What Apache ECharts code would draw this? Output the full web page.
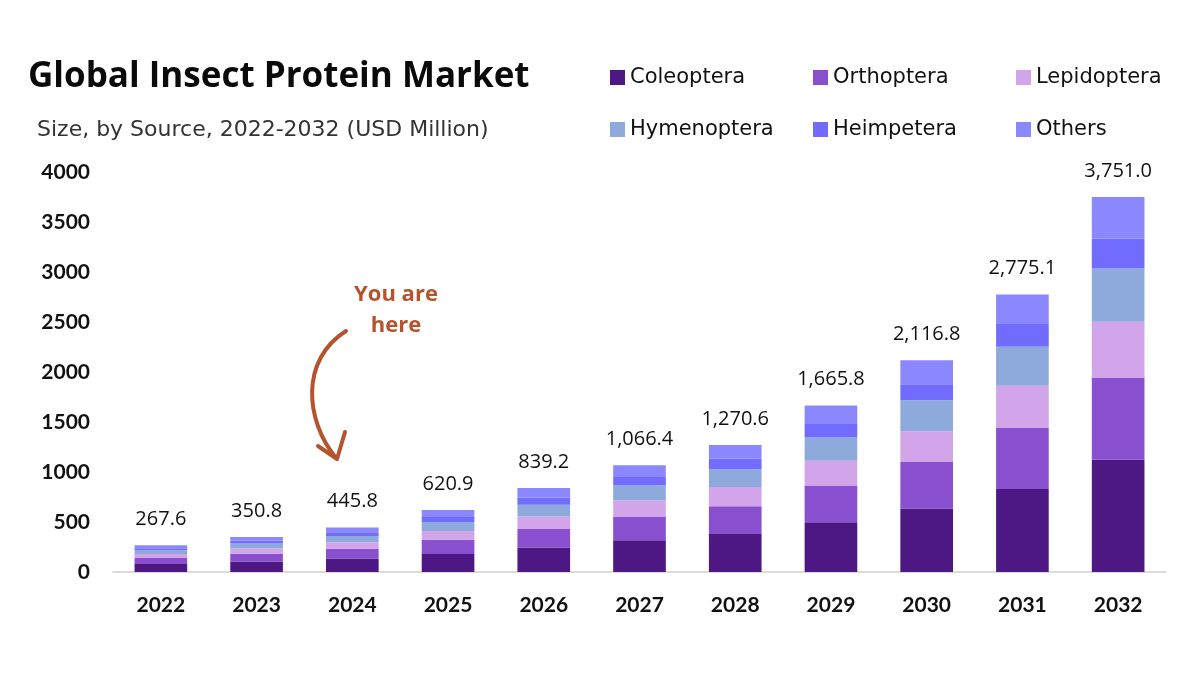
<!DOCTYPE html>
<html>
<head>
<meta charset="utf-8">
<script src="https://cdn.jsdelivr.net/npm/echarts@6/dist/echarts.min.js"></script>
<style>
  html, body { margin: 0; padding: 0; background: #fff; }
  #chart { width: 1200px; height: 675px; }
</style>
</head>
<body>
<div id="chart"></div>
<script>
// data (USD Million)
var years = ['2022', '2023', '2024', '2025', '2026', '2027', '2028', '2029', '2030', '2031', '2032'];
var coleoptera  = [80, 105, 134, 180, 245, 318, 381, 498, 635, 830, 1122];
var orthoptera  = [59, 77, 98, 143, 186, 236, 276, 366, 466, 615, 822];
var lepidoptera = [40, 52, 66, 86, 124, 160, 194, 248, 307, 418, 559];
var hymenoptera = [38, 50, 63, 90, 118, 150, 176, 234, 310, 389, 533];
var heimpetera  = [21, 28, 36, 50, 70, 85, 106, 135, 160, 228, 299];
var others      = [29.6, 38.8, 48.8, 71.9, 96.2, 117.4, 137.6, 184.8, 238.8, 295.1, 416];
var totals      = [267.6, 350.8, 445.8, 620.9, 839.2, 1066.4, 1270.6, 1665.8, 2116.8, 2775.1, 3751.0];

var seriesNames = ['Coleoptera', 'Orthoptera', 'Lepidoptera', 'Hymenoptera', 'Heimpetera', 'Others'];
var seriesData = [coleoptera, orthoptera, lepidoptera, hymenoptera, heimpetera, others];
var colors = ['#4d1883', '#8a4fcf', '#d2a4ea', '#8ea9dc', '#716cfe', '#8b88ff'];

// legend slots (3 columns x 2 rows)
var legendLeft = [605, 808, 1011];
var legendTop = [62, 114];

function fmt(v) {
    var s = v.toFixed(1).split('.');
    s[0] = s[0].replace(/\B(?=(\d{3})+(?!\d))/g, ',');
    return s.join('.');
}

var chart = echarts.init(document.getElementById('chart'));

var series = seriesNames.map(function (name, i) {
    var s = {
        name: name,
        type: 'bar',
        stack: 'total',
        barWidth: '55%',
        data: seriesData[i],
        itemStyle: { color: colors[i] }
    };
    if (i === seriesNames.length - 1) {
        s.label = {
            show: true,
            position: 'top',
            distance: 16,
            fontFamily: 'Open Sans',
            fontSize: 20,
            color: '#111',
            formatter: function (p) { return fmt(totals[p.dataIndex]); }
        };
    }
    return s;
});

var legends = seriesNames.map(function (name, i) {
    return {
        data: [name],
        left: legendLeft[i % 3],
        top: legendTop[Math.floor(i / 3)],
        icon: 'rect',
        itemWidth: 15,
        itemHeight: 15,
        itemGap: 8,
        textStyle: { fontFamily: 'DejaVu Sans', fontSize: 21, color: '#111' }
    };
});

var option = {
    animation: false,
    backgroundColor: '#fff',
    title: [{
        text: 'Global Insect Protein Market',
        left: 23,
        top: 55,
        textStyle: { fontFamily: 'Open Sans', fontWeight: 'bold', fontSize: 35, color: '#0a0a0a' }
    }, {
        text: 'Size, by Source, 2022-2032 (USD Million)',
        left: 32,
        top: 114,
        textStyle: { fontFamily: 'DejaVu Sans', fontWeight: 'normal', fontSize: 22, color: '#333' }
    }],
    legend: legends,
    grid: { left: 113, right: 34, top: 172, bottom: 103 },
    xAxis: {
        type: 'category',
        data: years,
        axisTick: { show: false },
        axisLine: { lineStyle: { color: '#cfcfcf', width: 1.5 } },
        axisLabel: { margin: 23, fontFamily: 'Lato', fontWeight: 'bold', fontSize: 21, color: '#111' }
    },
    yAxis: {
        type: 'value',
        min: 0,
        max: 4000,
        interval: 500,
        splitLine: { show: false },
        axisLine: { show: false },
        axisTick: { show: false },
        axisLabel: {
            margin: 23, fontFamily: 'Lato', fontWeight: 'bold', fontSize: 21, color: '#111',
            formatter: function (v) { return String(v); }
        }
    },
    graphic: [{
        type: 'text',
        x: 396,
        y: 279,
        style: {
            text: 'You are\nhere',
            align: 'center',
            verticalAlign: 'top',
            fontFamily: 'Open Sans',
            fontWeight: 'bold',
            fontSize: 22,
            lineHeight: 31,
            fill: '#b6532f'
        }
    }, {
        type: 'bezierCurve',
        shape: { x1: 346, y1: 331, cpx1: 300, cpy1: 360, cpx2: 305, cpy2: 420, x2: 336, y2: 458 },
        style: { stroke: '#b6532f', lineWidth: 4, fill: null, lineCap: 'round' }
    }, {
        type: 'polyline',
        shape: { points: [[318, 446], [337, 459], [345, 432]] },
        style: { stroke: '#b6532f', lineWidth: 4, fill: null, lineCap: 'round', lineJoin: 'round' }
    }],
    series: series
};

chart.setOption(option);
</script>
</body>
</html>
